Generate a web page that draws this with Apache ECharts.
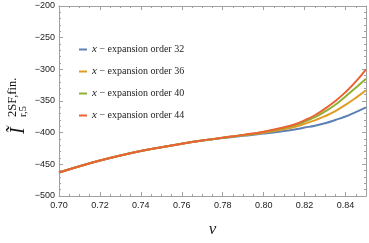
<!DOCTYPE html>
<html><head><meta charset="utf-8">
<script src="https://cdn.jsdelivr.net/npm/echarts@6/dist/echarts.min.js"></script>
<style>html,body{margin:0;padding:0;background:#fff}#c{width:369px;height:243px}</style>
</head><body><div id="c"></div>
<script>
var vValues = [0.70,0.71,0.72,0.73,0.74,0.75,0.76,0.77,0.78,0.79,0.80,0.81,0.815,0.82,0.825,0.83,0.835,0.84,0.845,0.85];
var order32 = [-463,-453,-444,-436,-429,-423,-417.5,-412.5,-408.5,-405,-401.5,-397.5,-395,-392,-389,-385,-380,-374.5,-367.5,-360];
var order36 = [-463,-453,-444,-436,-429,-423,-417.5,-412.5,-408,-404.2,-400,-394.5,-391,-386,-380.5,-374,-366,-356,-345,-333];
var order40 = [-463,-453,-444,-436,-429,-423,-417.5,-412.5,-408,-403.8,-399,-392.5,-388.5,-382.5,-375.5,-366.5,-356,-343,-329,-315];
var order44 = [-463,-453,-444,-436,-429,-423,-417.5,-412.5,-408,-403.5,-398.5,-391.5,-387,-380.5,-372.5,-362,-350,-336,-319.5,-300];
var seriesNames = ['order 32','order 36','order 40','order 44'];
var seriesData = [order32, order36, order40, order44];
var colors = ['#5E81B5','#E19C24','#8FB032','#EB6235'];
var xTicks = {min:0.70, max:0.85, interval:0.02};
var yTicks = {min:-500, max:-200, interval:50};

var chart = echarts.init(document.getElementById('c'));
var frame = '#a0a0a0';
function axisCommon(show) {
  return {
    axisLine:{show:true,onZero:false,lineStyle:{color:frame,width:1}},
    axisTick:{show:true,inside:true,length:4,lineStyle:{color:frame}},
    minorTick:{show:true,splitNumber:show,length:2,lineStyle:{color:frame}},
    splitLine:{show:false}
  };
}
var series = seriesData.map(function(arr,i){
  return {
    name: seriesNames[i], type:'line', smooth:true, showSymbol:false, symbol:'none',
    xAxisIndex:0, yAxisIndex:0,
    data: arr.map(function(y,j){return [vValues[j], y];}),
    lineStyle:{color:colors[i],width:2}, itemStyle:{color:colors[i]}, z: 2+i
  };
});
var option = {
  animation:false,
  grid:{left:59,right:3,top:6,bottom:47},
  legend:{
    orient:'vertical', left:74, top:39, itemGap:11, itemWidth:8, itemHeight:2,
    icon:'rect',
    data: seriesNames,
    formatter:function(n){return '{i|x} − expansion ' + n;},
    textStyle:{fontFamily:'Liberation Serif', fontSize:10, color:'#222',
      rich:{i:{fontFamily:'Liberation Serif', fontStyle:'italic', fontSize:11, color:'#222'}}}
  },
  xAxis:[
    Object.assign({type:'value', position:'bottom', min:xTicks.min, max:xTicks.max, interval:xTicks.interval,
      axisLabel:{show:true, fontFamily:'Liberation Sans', fontSize:9, color:'#222', margin:5,
        formatter:function(v){return v.toFixed(2);}, showMaxLabel:false},
      name:'v', nameLocation:'middle', nameGap:25,
      nameTextStyle:{fontFamily:'Liberation Serif', fontStyle:'italic', fontSize:17, color:'#222'}
    }, axisCommon(4)),
    Object.assign({type:'value', position:'top', min:xTicks.min, max:xTicks.max, interval:xTicks.interval,
      axisLabel:{show:false}}, axisCommon(4))
  ],
  yAxis:[
    Object.assign({type:'value', position:'left', min:yTicks.min, max:yTicks.max, interval:yTicks.interval,
      axisLabel:{show:true, fontFamily:'Liberation Sans', fontSize:9, color:'#222', margin:4,
        formatter:function(v){return String(v).replace('-','\u2212');}}}, axisCommon(5)),
    Object.assign({type:'value', position:'right', min:yTicks.min, max:yTicks.max, interval:yTicks.interval,
      axisLabel:{show:false}}, axisCommon(5))
  ],
  graphic:[{
    type:'group', x:19, y:134, rotation:Math.PI/2,
    children:[
      {type:'text', x:0, y:0, style:{text:'\u0128', font:'italic 20px "Liberation Serif"', fill:'#111', align:'left', verticalAlign:'middle'}},
      {type:'text', x:17, y:-6, style:{text:'2SF,fin.', font:'12.5px "Liberation Serif"', fill:'#111', align:'left', verticalAlign:'middle'}},
      {type:'text', x:17, y:4, style:{text:'r,5', font:'10.5px "Liberation Serif"', fill:'#111', align:'left', verticalAlign:'middle'}},
    ]
  }],
  series: series
};
chart.setOption(option);
</script></body></html>
